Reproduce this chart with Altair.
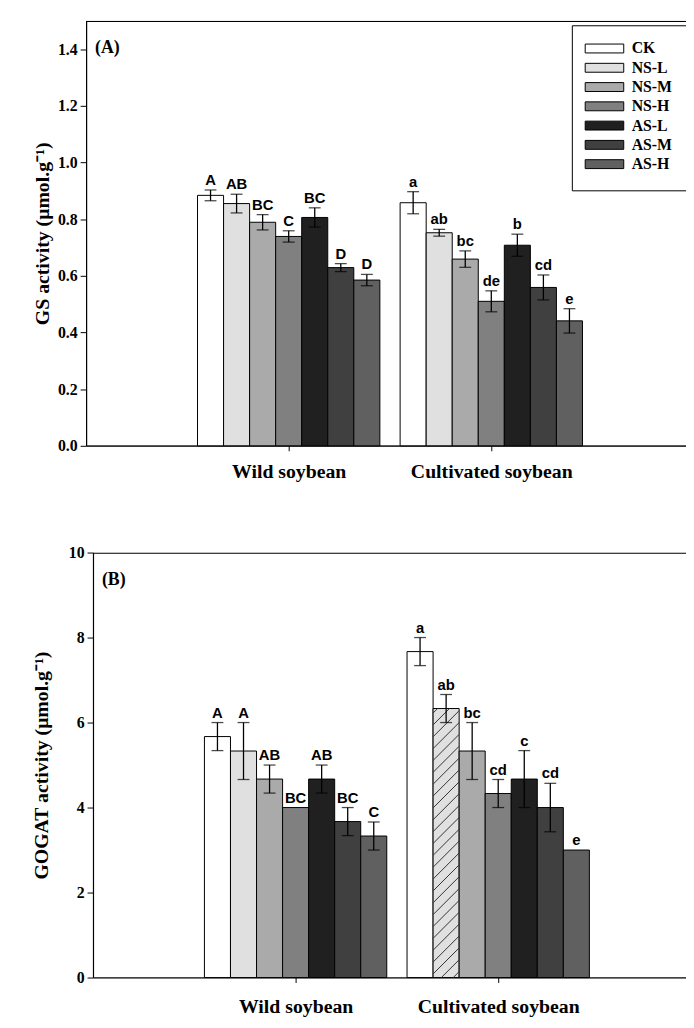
import altair as alt
import numpy as np
import pandas as pd

# ---------------- data ----------------
treatments = ["CK", "NS-L", "NS-M", "NS-H", "AS-L", "AS-M", "AS-H"]
fills = ["#ffffff", "#e0e0e0", "#aaaaaa", "#808080", "#202020", "#404040", "#606060"]
species = ["Wild soybean", "Cultivated soybean"]

gs_wild = [0.884, 0.855, 0.789, 0.739, 0.806, 0.629, 0.585]
gs_wild_err = [0.019, 0.033, 0.027, 0.020, 0.034, 0.014, 0.020]
gs_wild_letters = ["A", "AB", "BC", "C", "BC", "D", "D"]
gs_cult = [0.858, 0.752, 0.659, 0.510, 0.708, 0.559, 0.441]
gs_cult_err = [0.039, 0.012, 0.029, 0.037, 0.039, 0.044, 0.043]
gs_cult_letters = ["a", "ab", "bc", "de", "b", "cd", "e"]

gogat_wild = [5.67, 5.33, 4.67, 4.00, 4.67, 3.67, 3.33]
gogat_wild_err = [0.33, 0.67, 0.33, 0.0, 0.33, 0.33, 0.33]
gogat_wild_letters = ["A", "A", "AB", "BC", "AB", "BC", "C"]
gogat_cult = [7.67, 6.33, 5.33, 4.33, 4.67, 4.00, 3.00]
gogat_cult_err = [0.33, 0.33, 0.67, 0.33, 0.67, 0.57, 0.0]
gogat_cult_letters = ["a", "ab", "bc", "cd", "c", "cd", "e"]

gs_ticks = [0.0, 0.2, 0.4, 0.6, 0.8, 1.0, 1.2, 1.4]
gogat_ticks = [0, 2, 4, 6, 8, 10]

# ---------------- layout constants ----------------
PX = 205.0      # pixels per x unit
W = 607         # plot width (cropped on the right like the reference)
H = 430         # plot height
BAR = 0.9 / 7   # bar width in x units
SERIF = "Liberation Serif"
SANS = "Liberation Sans"

cscale = alt.Scale(domain=treatments, range=fills)


def make_df(wild, wild_err, wild_let, cult, cult_err, cult_let):
    rows = []
    groups = [(wild, wild_err, wild_let), (cult, cult_err, cult_let)]
    for g, (vals, errs, lets) in enumerate(groups):
        for i, t in enumerate(treatments):
            xc = g + 1 + (i - 3) * BAR
            rows.append(dict(species=species[g], treatment=t, value=vals[i],
                             err=errs[i], letter=lets[i], xc=xc,
                             x0=xc - BAR / 2, x1=xc + BAR / 2,
                             lo=vals[i] - errs[i], hi=vals[i] + errs[i]))
    return pd.DataFrame(rows)


def hatch_df(df, species_name, treatment, ymax):
    r = df[(df.species == species_name) & (df.treatment == treatment)].iloc[0]
    x0, x1, top = r.x0, r.x1, r.value
    rise = (BAR * PX) / (H / ymax)        # 45 degree lines in pixel space
    step = 12.0 / (H / ymax)              # 12 px vertical spacing
    k = rise / (x1 - x0)
    segs = []
    s = -rise + step * 0.5
    while s < top:
        xa, ya = x0, s
        xb, yb = x1, s + rise
        if ya < 0:
            xa, ya = x0 + (-s) / k, 0.0
        if yb > top:
            xb, yb = x0 + (top - s) / k, top
        if xb > xa:
            segs.append(dict(hx=xa, hx2=xb, hy=ya, hy2=yb))
        s += step
    return pd.DataFrame(segs)


def panel(df, ymax, ticks, fmt, ytitle, tag, shift, title_x, label_pad,
          legend=False, hatch=None):
    xs = alt.Scale(domain=[0, (W - shift) / PX], range=[shift, W], nice=False, zero=False)
    ys = alt.Scale(domain=[0, ymax], nice=False, zero=True)
    xaxis = alt.Axis(values=[1, 2],
                     labelExpr="datum.value == 1 ? 'Wild soybean' : 'Cultivated soybean'",
                     title=None, grid=False, tickSize=5, tickColor="black",
                     domainColor="black", labelFont=SERIF, labelFontWeight="bold",
                     labelFontSize=20, labelColor="black", labelPadding=label_pad,
                     labelFlush=False, labelOverlap=False)
    yaxis = alt.Axis(values=ticks, format=fmt, title=ytitle, grid=False, tickSize=6,
                     tickColor="black", domainColor="black", labelFont=SERIF,
                     labelFontWeight="bold", labelFontSize=16, labelColor="black",
                     labelPadding=3, titleFont=SERIF, titleFontWeight="bold",
                     titleFontSize=20, titleColor="black", titleX=title_x,
                     titleY=H / 2, titleAngle=270, titleBaseline="middle",
                     titleAlign="center", offset=-shift)

    one = pd.DataFrame({"k": [0]})
    # plot frame: top / left / bottom; the right side lies outside the cropped view
    frame = alt.Chart(one).mark_rect(fill="transparent", stroke="black", strokeWidth=1.2,
                                     clip=True).encode(
        x=alt.value(shift + 0.5), x2=alt.value(W + 30), y=alt.value(0.6), y2=alt.value(H))

    base = alt.Chart(df)
    bars = base.mark_bar(stroke="black", strokeWidth=1).encode(
        x=alt.X("x0:Q", scale=xs, axis=xaxis),
        x2="x1:Q",
        y=alt.Y("value:Q", scale=ys, axis=yaxis),
        y2=alt.datum(0),
        fill=alt.Fill("treatment:N", scale=cscale, legend=None),
    )
    layers = [frame, bars]

    if hatch is not None:
        hl = alt.Chart(hatch).mark_rule(color="#333333", strokeWidth=1).encode(
            x=alt.X("hx:Q", scale=xs, axis=xaxis), x2="hx2:Q",
            y=alt.Y("hy:Q", scale=ys, axis=yaxis), y2="hy2:Q")
        layers.append(hl)

    eb = base.transform_filter("datum.err > 0")
    err = eb.mark_rule(color="black", strokeWidth=1.3).encode(
        x=alt.X("xc:Q", scale=xs, axis=xaxis),
        y=alt.Y("lo:Q", scale=ys, axis=yaxis), y2="hi:Q")
    cap_lo = eb.mark_tick(orient="horizontal", size=12, thickness=1.3, color="black").encode(
        x=alt.X("xc:Q", scale=xs, axis=xaxis), y=alt.Y("lo:Q", scale=ys, axis=yaxis))
    cap_hi = eb.mark_tick(orient="horizontal", size=12, thickness=1.3, color="black").encode(
        x=alt.X("xc:Q", scale=xs, axis=xaxis), y=alt.Y("hi:Q", scale=ys, axis=yaxis))
    letters = base.mark_text(font=SANS, fontWeight="bold", fontSize=15, color="black",
                             baseline="alphabetic", dy=-5).encode(
        x=alt.X("xc:Q", scale=xs, axis=xaxis), y=alt.Y("hi:Q", scale=ys, axis=yaxis),
        text="letter:N")
    layers += [err, cap_lo, cap_hi, letters]

    tagt = alt.Chart(one).mark_text(font=SERIF, fontWeight="bold", fontSize=18,
                                    align="left", baseline="middle", color="black").encode(
        x=alt.value(shift + 9), y=alt.value(28), text=alt.value(tag))
    layers += [tagt]

    if legend:
        box = alt.Chart(one).mark_rect(fill="white", stroke="black", strokeWidth=1,
                                       clip=True).encode(
            x=alt.value(492), x2=alt.value(W + 30), y=alt.value(5), y2=alt.value(172))
        leg = pd.DataFrame({"treatment": treatments, "order": list(range(len(treatments)))})
        lb = alt.Chart(leg).transform_calculate(
            ly="23.5 + datum.order * 19.5", ly2="32.5 + datum.order * 19.5",
            lm="28 + datum.order * 19.5")
        sym = lb.mark_rect(stroke="black", strokeWidth=1).encode(
            x=alt.value(505), x2=alt.value(544),
            y=alt.Y("ly:Q", scale=None, axis=None), y2="ly2:Q",
            fill=alt.Fill("treatment:N", scale=cscale, legend=None))
        txt = lb.mark_text(font=SERIF, fontWeight="bold", fontSize=16, align="left",
                           baseline="middle", color="black").encode(
            x=alt.value(552), y=alt.Y("lm:Q", scale=None, axis=None), text="treatment:N")
        layers += [box, sym, txt]

    return alt.layer(*layers).properties(width=W, height=H)


dfA = make_df(gs_wild, gs_wild_err, gs_wild_letters, gs_cult, gs_cult_err, gs_cult_letters)
dfB = make_df(gogat_wild, gogat_wild_err, gogat_wild_letters,
              gogat_cult, gogat_cult_err, gogat_cult_letters)

pA = panel(dfA, 1.5, gs_ticks, ".1f", "GS activity (μmol.g⁻¹)", "(A)", 0, -44, 11,
           legend=True)
pB = panel(dfB, 10, gogat_ticks, "d", "GOGAT activity (μmol.g⁻¹)", "(B)", 7, -52, 14,
           hatch=hatch_df(dfB, "Cultivated soybean", "NS-L", 10))

chart = alt.vconcat(pA, pB, spacing=108, bounds="flush").properties(
    padding={"left": 24, "top": 7, "right": 0, "bottom": 0}
).configure_view(stroke=None).configure_axis(domainWidth=1, tickWidth=1)

chart.save("out.html", embed_options={"renderer": "svg", "actions": False})
